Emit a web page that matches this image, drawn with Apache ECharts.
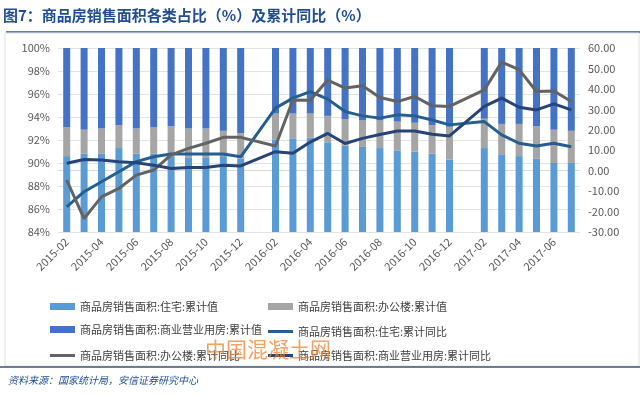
<!DOCTYPE html>
<html style="height: 100%">
<head>
<meta charset="utf-8">
</head>
<body style="height: 100%; margin: 0; background: #fff">
<div id="container" style="width: 640px; height: 397px"></div>
<script src="https://cdn.jsdelivr.net/npm/echarts@6/dist/echarts.min.js"></script>
<script type="text/javascript">
// 月份（1月数据与2月合并，故留空）
var months = ['2015-02','2015-03','2015-04','2015-05','2015-06','2015-07','2015-08','2015-09','2015-10','2015-11','2015-12',
  '2016-01','2016-02','2016-03','2016-04','2016-05','2016-06','2016-07','2016-08','2016-09','2016-10','2016-11','2016-12',
  '2017-01','2017-02','2017-03','2017-04','2017-05','2017-06','2017-07'];

// 占比 (%)
var zhuzhaiShare = [90.6,90.8,90.8,91.3,90.8,90.8,90.6,90.5,90.5,90.6,90.4,null,92.05,92.1,92.2,91.8,91.5,91.4,91.3,91.1,91.0,90.8,90.3,null,91.3,90.7,90.6,90.4,90.0,90.0];
var bangongShare = [2.5,2.1,2.2,2.0,2.2,2.3,2.6,2.5,2.5,2.2,2.2,null,2.25,2.2,2.1,2.3,2.3,2.3,2.4,2.5,2.5,2.5,2.85,null,2.55,2.7,2.8,2.8,2.9,2.8];
var shangyeShare = [6.9,7.1,7.0,6.7,7.0,6.9,6.8,7.0,7.0,7.2,7.4,null,5.7,5.7,5.7,5.9,6.2,6.3,6.3,6.4,6.5,6.7,6.85,null,6.15,6.6,6.6,6.8,7.1,7.2];

// 累计同比 (%)
var zhuzhaiYoy = [-17.7,-10.3,-5.4,-0.5,4.4,6.8,8.1,8.1,8.1,8.1,6.8,null,30.6,35.5,38.7,35.0,28.9,26.8,25.7,27.3,26.8,24.8,22.4,null,24.0,17.5,13.4,12.1,13.4,11.7];
var bangongYoy = [-4.6,-23.4,-12.8,-8.7,-2.2,0.3,7.7,10.9,13.4,16.3,16.3,null,12.1,34.6,34.4,44.3,40.4,41.5,35.8,33.8,36.3,31.7,31.4,null,39.5,53.1,49.4,38.7,39.0,33.8];
var shangyeYoy = [3.6,5.5,5.2,4.4,3.9,2.7,1.1,1.6,1.6,2.7,2.3,null,9.3,8.5,14.0,18.2,13.3,15.8,17.7,19.4,19.4,17.8,17.0,null,31.4,35.5,31.0,29.7,32.7,29.7];

var names = ['商品房销售面积:住宅:累计值','商品房销售面积:办公楼:累计值','商品房销售面积:商业营业用房:累计值',
  '商品房销售面积:住宅:累计同比','商品房销售面积:办公楼:累计同比','商品房销售面积:商业营业用房:累计同比'];

var dom = document.getElementById('container');
var myChart = echarts.init(dom);
var font = '"Noto Sans CJK SC", sans-serif';

function legendItem(name, left, top, h) {
  return {
    data: [{name: name, icon: 'rect'}],
    left: left, top: top,
    itemWidth: 25, itemHeight: h, itemGap: 4,
    selectedMode: false,
    textStyle: {color: '#404040', fontSize: 11, fontFamily: font}
  };
}

function lineSeries(name, data, color) {
  return {
    name: name, type: 'line', yAxisIndex: 1, data: data,
    showSymbol: false, connectNulls: true,
    lineStyle: {width: 3, color: color}, itemStyle: {color: color},
    z: 5
  };
}

var option = {
  animation: false,
  grid: {left: 58, right: 60, top: 48, bottom: 165},
  legend: [
    legendItem(names[0], 45, 296, 7),
    legendItem(names[1], 263, 296, 7),
    legendItem(names[2], 45, 319, 7),
    legendItem(names[3], 263, 321, 3),
    legendItem(names[4], 45, 345, 3),
    legendItem(names[5], 263, 345, 3)
  ],
  xAxis: {
    type: 'category', data: months,
    axisTick: {show: false},
    axisLine: {lineStyle: {color: '#D9D9D9'}},
    axisLabel: {interval: 1, rotate: 45, color: '#595959', fontSize: 11, fontFamily: font, margin: 8}
  },
  yAxis: [{
    type: 'value', min: 84, max: 100, interval: 2,
    axisLine: {show: false}, axisTick: {show: false},
    axisLabel: {formatter: '{value}%', color: '#595959', fontSize: 11, fontFamily: font},
    splitLine: {lineStyle: {color: '#E3E3E3'}}
  }, {
    type: 'value', min: -30, max: 60, interval: 10,
    axisLine: {show: false}, axisTick: {show: false},
    axisLabel: {formatter: function (v) { return v.toFixed(2); }, color: '#595959', fontSize: 11, fontFamily: font},
    splitLine: {show: false}
  }],
  series: [
    {name: names[0], type: 'bar', stack: 'share', data: zhuzhaiShare, barWidth: 7, itemStyle: {color: '#5B9BD5'}},
    {name: names[1], type: 'bar', stack: 'share', data: bangongShare, barWidth: 7, itemStyle: {color: '#A5A5A5'}},
    {name: names[2], type: 'bar', stack: 'share', data: shangyeShare, barWidth: 7, itemStyle: {color: '#4472C4'}},
    lineSeries(names[3], zhuzhaiYoy, '#255E91'),
    lineSeries(names[4], bangongYoy, '#636363'),
    lineSeries(names[5], shangyeYoy, '#264478')
  ],
  graphic: [
    {type: 'text', left: 3, top: 8,
      style: {text: '图7：商品房销售面积各类占比（%）及累计同比（%）', fill: '#1F4E96', font: 'bold 15px "Noto Sans CJK SC"'}},
    {type: 'line', shape: {x1: 6, y1: 32, x2: 640, y2: 32}, style: {stroke: '#2F5597', lineWidth: 1.5}},
    {type: 'rect', shape: {x: 5, y: 33, width: 634, height: 333}, style: {fill: null, stroke: '#E0E0E0', lineWidth: 1}},
    {type: 'line', shape: {x1: 0, y1: 367, x2: 640, y2: 367}, style: {stroke: '#44546A', lineWidth: 1.5}},
    {type: 'text', left: 8, top: 375,
      style: {text: '资料来源：国家统计局，安信证券研究中心', fill: '#1F4E96', font: 'italic 10px "Noto Sans CJK SC"'}},
    {type: 'text', left: 205, top: 339, z: 100,
      style: {text: '中国混凝土网', fill: 'rgba(240,130,50,0.75)', font: '21px "Noto Sans CJK SC"'}}
  ]
};
myChart.setOption(option);
</script>
</body>
</html>
